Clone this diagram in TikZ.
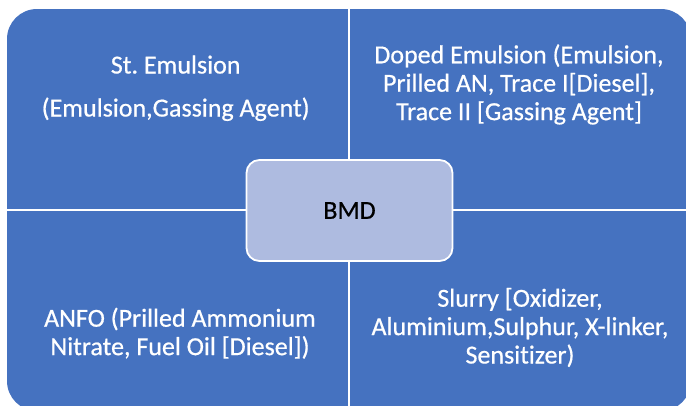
\documentclass[tikz,border=0pt]{standalone}
\usepackage{fontspec}
\setmainfont{Carlito}[RawFeature={-liga}, FakeBold=0.6]
\definecolor{quadblue}{RGB}{69,114,192}
\definecolor{centerfill}{RGB}{174,187,224}
\tikzset{
  quad/.style={fill=quadblue},
  divider/.style={draw=white, line width=2pt},
  centerbox/.style={draw=white, line width=1.8pt, fill=centerfill, rounded corners=13pt,
    minimum width=206pt, minimum height=101pt, inner sep=0pt},
  quadtext/.style={text=white, anchor=base, inner sep=0pt,
    font=\fontsize{26}{28.4}\selectfont},
}
\frenchspacing
\begin{document}
\begin{tikzpicture}[x=1pt,y=-1pt]
\useasboundingbox (0,0) rectangle (686,405);
\clip (0,0) rectangle (686,405);
\fill[quad, rounded corners=30pt] (7,9) rectangle (691,411);
\coordinate (top) at (349,9);
\coordinate (bottom) at (349,411);
\coordinate (left) at (7,209.5);
\coordinate (right) at (691,209.5);
\draw[divider] (top) -- (bottom);
\draw[divider] (left) -- (right);
\node[centerbox] (bmd) at (349.5,210.5) {\fontsize{26}{28}\selectfont BMD};
\node[quadtext] (stem) at (175.7,73.5) {\begin{tabular}[t]{@{}c@{}}St. Emulsion\\[14.6pt](Emulsion,Gassing Agent)\end{tabular}};
\node[quadtext] (doped) at (519,63.3) {\begin{tabular}[t]{@{}c@{}}Doped Emulsion (Emulsion,\\Prilled AN, Trace I[Diesel],\\Trace II [Gassing Agent]\end{tabular}};
\node[quadtext] (anfo) at (180,326.7) {\begin{tabular}[t]{@{}c@{}}ANFO (Prilled Ammonium\\Nitrate, Fuel Oil [Diesel])\end{tabular}};
\node[quadtext] (slurry) at (520,306.7) {\begin{tabular}[t]{@{}c@{}}Slurry [Oxidizer,\\Aluminium,Sulphur, X-linker,\\Sensitizer)\end{tabular}};
\end{tikzpicture}
\end{document}
